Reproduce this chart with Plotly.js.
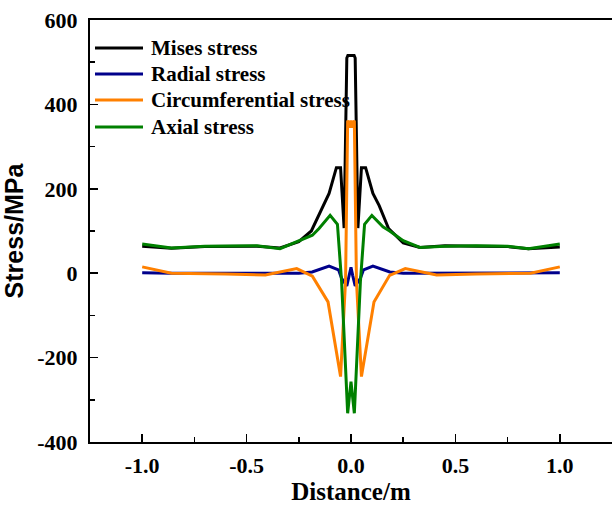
<!DOCTYPE html>
<html>
<head>
<meta charset="utf-8">
<script src="https://cdn.plot.ly/plotly-3.0.1.min.js"></script>
<style>
html,body{margin:0;padding:0;overflow:hidden;background:#fff;}
#chart{width:612px;height:505px;}
</style>
</head>
<body>
<div id="chart"></div>
<script>
// Mises stress
const misesX = [-1.0,-0.86,-0.7,-0.55,-0.45,-0.34,-0.25,-0.19,-0.14,-0.105,-0.07,-0.05,-0.033,-0.02,-0.015,0.015,0.02,0.033,0.05,0.07,0.105,0.135,0.18,0.25,0.33,0.45,0.6,0.75,0.85,1.0];
const misesY = [64,59,63,64,64,60,75,100,150,189,250,250,107,510,516,516,510,107,250,250,189,160,106,72,61,65,64,63,58,62];
// Radial stress
const radialX = [-1.0,-0.86,-0.6,-0.4,-0.25,-0.186,-0.105,-0.06,-0.045,-0.02,-0.008,0,0.008,0.02,0.045,0.06,0.105,0.186,0.25,0.4,0.6,0.86,1.0];
const radialY = [1,0,0,0,0,3,17,8,-12,-30,-5,14,-5,-30,-12,8,17,3,0,0,0,0,1];
// Circumferential stress
const circX = [-1.0,-0.86,-0.6,-0.41,-0.26,-0.185,-0.11,-0.05,-0.026,-0.016,-0.006,0,0.006,0.016,0.026,0.05,0.11,0.185,0.26,0.41,0.6,0.86,1.0];
const circY = [15,0,-2,-4,11,-7,-68,-245,-17,362,345,362,345,362,-17,-245,-68,-5,11,-4,-2,0,15];
// Axial stress
const axialX = [-1.0,-0.86,-0.7,-0.55,-0.45,-0.34,-0.25,-0.185,-0.153,-0.1,-0.065,-0.045,-0.016,0,0.016,0.045,0.065,0.1,0.153,0.185,0.25,0.33,0.45,0.6,0.75,0.85,1.0];
const axialY = [69,60,64,65,65,58,76,90,106,137,116,-20,-332,-257,-332,-20,116,137,110,100,77,61,64,65,64,58,69];

const seriesNames = ['Mises stress','Radial stress','Circumferential stress','Axial stress'];
const seriesColors = ['#000000','#00008B','#FF8000','#008000'];

const xTickVals = [-1.0,-0.5,0.0,0.5,1.0];
const xTickText = ['-1.0','-0.5','0.0','0.5','1.0'];
const yTickVals = [-400,-200,0,200,400,600];
const yTickText = ['-400','-200','0','200','400','600'];

const serif = 'Liberation Serif, Times New Roman, serif';
const lw = 3;

const xs = [misesX, radialX, circX, axialX];
const ys = [misesY, radialY, circY, axialY];
const traces = xs.map((x, i) => ({
  x: x, y: ys[i], name: seriesNames[i], mode: 'lines',
  line: {color: seriesColors[i], width: lw}, showlegend: false
}));

// manual legend (paper coordinates)
const plotL = 90, plotW = 522, plotT = 20, plotH = 422;
const px2x = p => (p - plotL) / plotW;
const py2y = p => (plotT + plotH - p) / plotH;
const rowY = [48, 74, 100, 127];
const shapes = [];
const annotations = [];
seriesNames.forEach((n, i) => {
  shapes.push({type: 'line', xref: 'paper', yref: 'paper',
    x0: px2x(95), x1: px2x(143), y0: py2y(rowY[i]), y1: py2y(rowY[i]),
    line: {color: seriesColors[i], width: lw}});
  annotations.push({xref: 'paper', yref: 'paper', x: px2x(149), y: py2y(rowY[i]),
    xanchor: 'left', yanchor: 'middle', showarrow: false, text: n,
    font: {family: serif, size: 21, color: '#000', weight: 'bold'}});
});

const layout = {
  width: 612, height: 505,
  margin: {l: 90, r: 0, t: 20, b: 63},
  paper_bgcolor: '#fff', plot_bgcolor: '#fff',
  showlegend: false,
  shapes: shapes,
  annotations: annotations,
  xaxis: {
    range: [-1.25, 1.25],
    tickvals: xTickVals, ticktext: xTickText,
    ticks: 'inside', ticklen: 8, tickwidth: 1.5, tickcolor: '#000',
    minor: {dtick: 0.25, tick0: 0, ticks: 'inside', ticklen: 5, tickwidth: 1.5, tickcolor: '#000'},
    showline: true, linecolor: '#000', linewidth: 2, mirror: true,
    showgrid: false, zeroline: false,
    tickfont: {family: serif, size: 22, color: '#000', weight: 'bold'},
    ticklabelstandoff: 3,
    title: {text: 'Distance/m', font: {family: serif, size: 25, color: '#000', weight: 'bold'}, standoff: 4}
  },
  yaxis: {
    range: [-400, 600],
    tickvals: yTickVals, ticktext: yTickText,
    ticks: 'inside', ticklen: 8, tickwidth: 1.5, tickcolor: '#000',
    minor: {dtick: 100, tick0: 0, ticks: 'inside', ticklen: 5, tickwidth: 1.5, tickcolor: '#000'},
    showline: true, linecolor: '#000', linewidth: 2, mirror: false,
    showgrid: false, zeroline: false,
    tickfont: {family: serif, size: 22, color: '#000', weight: 'bold'},
    ticklabelstandoff: 6,
    title: {text: 'Stress/MPa', font: {family: 'Liberation Sans, Arial, sans-serif', size: 25, color: '#000', weight: 'bold'}, standoff: 8}
  }
};

Plotly.newPlot('chart', traces, layout, {displayModeBar: false, staticPlot: true});
</script>
</body>
</html>
